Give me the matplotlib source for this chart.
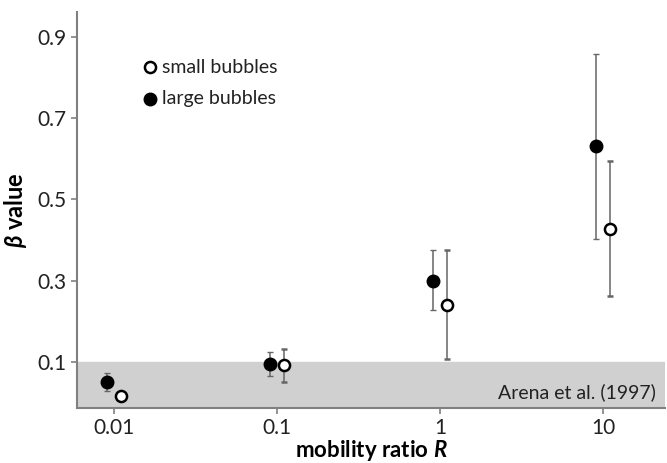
import matplotlib
matplotlib.use('Agg')
import numpy as np
import matplotlib.pyplot as plt

plt.rcParams['font.family'] = ['Lato', 'DejaVu Sans']
plt.rcParams['mathtext.fontset'] = 'custom'
plt.rcParams['mathtext.bfit'] = 'Lato:italic:bold'
plt.rcParams['mathtext.it'] = 'Lato:italic'

# data
large_x = [0.0091, 0.091, 0.91, 9.1]
large_y = [0.051, 0.095, 0.301, 0.632]
large_lo = [0.029, 0.066, 0.228, 0.404]
large_hi = [0.075, 0.125, 0.375, 0.858]

small_x = [0.011, 0.11, 1.1, 11.0]
small_y = [0.017, 0.093, 0.242, 0.428]
small_lo = [0.017, 0.053, 0.108, 0.262]
small_hi = [0.017, 0.134, 0.375, 0.595]

xticks = [0.01, 0.1, 1, 10]
xticklabels = ['0.01', '0.1', '1', '10']
yticks = [0.1, 0.3, 0.5, 0.7, 0.9]

fig = plt.figure(figsize=(6.67, 4.63), dpi=100)
ax = fig.add_axes([0.1154, 0.1188, 0.8816, 0.855])

ylo, yhi = -0.012, 0.96
ax.axhspan(ylo, 0.1, color='#d0d0d0', zorder=0)
ax.text(0.985, 0.04, 'Arena et al. (1997)', transform=ax.transAxes,
        ha='right', va='center', fontsize=14, color='#222222')

ecol = '#666666'
ly = np.array(large_y)
ax.errorbar(large_x, large_y, yerr=[ly - np.array(large_lo), np.array(large_hi) - ly],
            fmt='o', color='black', ms=9, ecolor=ecol, elinewidth=1.1,
            capsize=2.5, capthick=1.0, zorder=3)
sy = np.array(small_y)
ax.errorbar(small_x, small_y, yerr=[sy - np.array(small_lo), np.array(small_hi) - sy],
            fmt='o', mfc='white', mec='black', mew=1.8, ms=8, ecolor=ecol,
            elinewidth=1.1, capsize=2.5, capthick=1.0, zorder=3)

# legend
ax.plot([0.0166], [0.825], 'o', mfc='white', mec='black', mew=1.8, ms=8)
ax.text(0.0196, 0.825, 'small bubbles', va='center', fontsize=14, color='#222222')
ax.plot([0.0166], [0.747], 'o', color='black', ms=9)
ax.text(0.0196, 0.747, 'large bubbles', va='center', fontsize=14, color='#222222')

ax.set_xscale('log')
ax.set_xlim(0.00593, 24.0)
ax.set_ylim(ylo, yhi)
ax.set_xticks(xticks)
ax.set_xticklabels(xticklabels)
ax.minorticks_off()
ax.set_yticks(yticks)
ax.set_yticklabels([f'{v:.1f}' for v in yticks])
ax.tick_params(labelsize=15, colors='#808080', labelcolor='#222222', length=4, width=1.2)

for s in ['top', 'right']:
    ax.spines[s].set_visible(False)
for s in ['left', 'bottom']:
    ax.spines[s].set_color('#808080')
    ax.spines[s].set_linewidth(1.5)

ax.set_xlabel(r'mobility ratio $\mathbfit{R}$', fontsize=16, fontweight='bold', labelpad=0)
ax.set_ylabel(r'$\mathbfit{\beta}$ value', fontsize=17, fontweight='bold', labelpad=6)

fig.savefig('out.png', dpi=100)
